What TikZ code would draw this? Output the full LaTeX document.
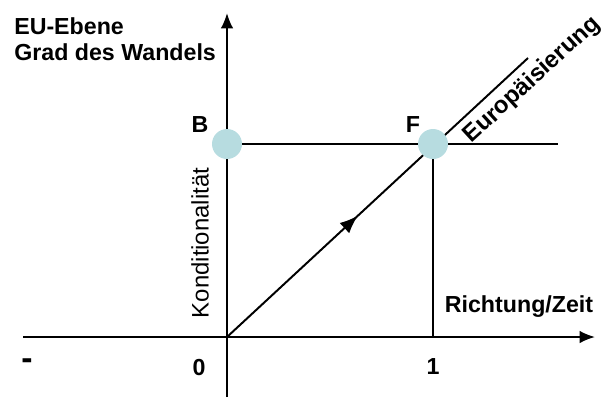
\documentclass[tikz,border=0pt]{standalone}
\usepackage{fontspec}
\setsansfont{Liberation Sans}
\usetikzlibrary{arrows.meta,decorations.markings}
\definecolor{pointblue}{RGB}{183,220,224}

\begin{document}
\begin{tikzpicture}[
  x=0.025cm, y=-0.025cm,
  every node/.style={font=\sffamily\fontsize{17}{19}\selectfont, inner sep=0pt},
  bold/.style={font=\sffamily\bfseries\fontsize{16.5}{19}\selectfont},
  axis/.style={line width=1.4pt, -{Latex[length=11pt,width=9pt]}},
  line/.style={line width=1.4pt},
  point/.style={circle, fill=pointblue, minimum size=0.75cm}
]
  \useasboundingbox (0,0) rectangle (604,397);

  \coordinate (O)    at (227,337);
  \coordinate (xend) at (595,337);
  \coordinate (xbeg) at (23,337);
  \coordinate (ytop) at (227,13);
  \coordinate (ybot) at (227,397);
  \coordinate (hend) at (558,144);
  \coordinate (dend) at (528,58);

  % axes
  \draw[axis] (xbeg) -- (xend);
  \draw[axis] (ybot) -- (ytop);

  % lines
  \draw[line] (227,144) -- (hend);
  \draw[line] (433,144) -- (433,337);
  \draw[line, postaction={decorate}, decoration={markings,
        mark=at position 0.435 with {\arrow{Latex[length=13pt,width=10pt]}}}]
        (O) -- (dend);

  % points
  \node[point] (B) at (227,144) {};
  \node[point] (F) at (433,144) {};
  \node[bold] (Blab) at (200,125) {B};
  \node[bold] (Flab) at (413,125) {F};

  % labels
  \node[bold, align=left, anchor=north west] (ylab) at (14,17)
       {EU-Ebene\\Grad des Wandels};
  \node[bold, anchor=base] (xlab) at (519,312) {Richtung/Zeit};
  \node[rotate=90] (kond) at (200,243) {Konditionalität};
  \node[bold, rotate=42.5, font=\sffamily\bfseries\fontsize{17}{19}\selectfont]
       (europa) at (532,80) {Europäisierung};
  \node[bold, anchor=base] (zero) at (199,375) {0};
  \node[bold, anchor=base] (one) at (433,374) {1};
  \node[bold, font=\sffamily\bfseries\fontsize{24}{24}\selectfont] (minus) at (27,364) {-};
\end{tikzpicture}
\end{document}
